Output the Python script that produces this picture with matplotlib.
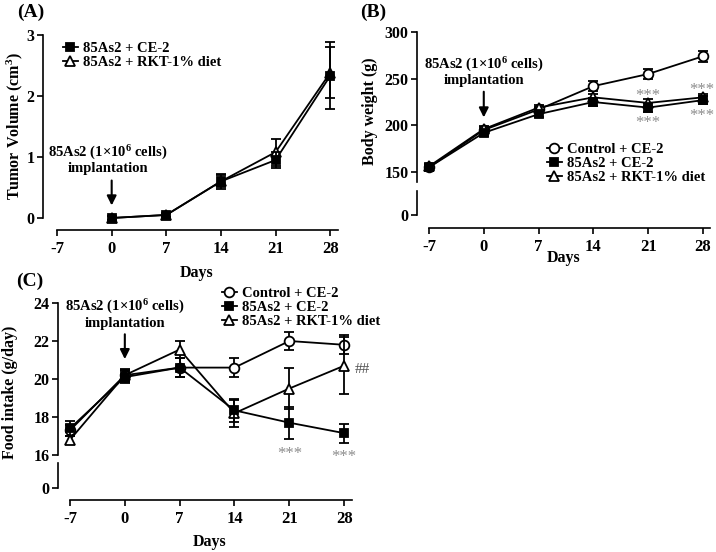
import matplotlib
matplotlib.use('Agg')
import matplotlib.pyplot as plt
from matplotlib.lines import Line2D

plt.rcParams['font.family'] = ['Liberation Serif', 'DejaVu Serif']
plt.rcParams['font.weight'] = 'bold'
plt.rcParams['axes.linewidth'] = 1.2
plt.rcParams['axes.unicode_minus'] = False
plt.rcParams['mathtext.fontset'] = 'custom'
plt.rcParams['mathtext.rm'] = 'Liberation Serif:bold'
plt.rcParams['mathtext.bf'] = 'Liberation Serif:bold'
plt.rcParams['mathtext.it'] = 'Liberation Serif:bold:italic'
plt.rcParams['mathtext.default'] = 'rm'

# ---------------- data ----------------
days_a = [0, 7, 14, 21, 28]
tumor_ce2 = [0.0, 0.05, 0.60, 0.95, 2.33]
tumor_ce2_err = [0.03, 0.03, 0.12, 0.13, 0.55]
tumor_rkt = [0.0, 0.05, 0.60, 1.08, 2.38]
tumor_rkt_err = [0.03, 0.03, 0.10, 0.22, 0.42]

days = [-7, 0, 7, 14, 21, 28]
bw_control = [155, 195, 217, 242, 255, 274]
bw_control_err = [3, 3, 3, 5, 5, 6]
bw_ce2 = [155, 192, 212, 225, 219, 227]
bw_ce2_err = [3, 3, 3, 4, 5, 4]
bw_rkt = [156, 196, 219, 230, 224, 230]
bw_rkt_err = [3, 3, 3, 4, 4, 4]

fi_control = [17.3, 20.2, 20.6, 20.6, 22.0, 21.8]
fi_control_err = [0.3, 0.3, 0.5, 0.5, 0.45, 0.5]
fi_ce2 = [17.4, 20.1, 20.6, 18.35, 17.7, 17.15]
fi_ce2_err = [0.4, 0.3, 0.5, 0.6, 0.85, 0.5]
fi_rkt = [16.8, 20.2, 21.55, 18.2, 19.5, 20.7]
fi_rkt_err = [0.2, 0.35, 0.45, 0.7, 1.1, 1.5]

lab_control = 'Control + CE-2'
lab_ce2 = '85As2 + CE-2'
lab_rkt = '85As2 + RKT-1% diet'
implant_txt = '85As2 (1\u00d710$^{6}$ cells)\nimplantation'

W, H = 716, 552
fig = plt.figure(figsize=(W / 100, H / 100), dpi=100)


def add_ax(x0, y0, x1, y1):
    return fig.add_axes([x0 / W, 1 - y1 / H, (x1 - x0) / W, (y1 - y0) / H])


def fx(px):
    return px / W


def fy(py):
    return 1 - py / H


STY = {
    'ctrl': dict(marker='o', ms=7, mfc='white'),
    'ce2': dict(marker='s', ms=6, mfc='black'),
    'rkt': dict(marker='^', ms=7.5, mfc='white'),
}


def series(ax, x, y, e, key, z=3):
    ax.errorbar(x, y, yerr=e, fmt='-', color='black', lw=1.3, mec='black', mew=1.3,
                elinewidth=1.3, capsize=3.5, capthick=1.3, ecolor='black',
                clip_on=False, zorder=z, **STY[key])


def tick_style(ax):
    ax.tick_params(axis='both', direction='out', length=4, width=1.2, pad=2)
    for lab in ax.get_xticklabels():
        lab.set_fontsize(12)
        lab.set_fontweight('bold')
    for lab in ax.get_yticklabels():
        lab.set_fontsize(11.5)
        lab.set_fontweight('bold')
    ax.tick_params(axis='x', pad=4)


def legend_handles(keys):
    return [Line2D([], [], color='black', lw=1.3, mec='black', mew=1.3, **STY[k]) for k in keys]


ARROW = dict(arrowstyle='-|>', lw=1.5, color='black', mutation_scale=14)
LEG = dict(loc='upper left', frameon=False, handlelength=1.0, handletextpad=0.4,
           labelspacing=0.05, borderpad=0, borderaxespad=0,
           prop={'weight': 'bold', 'size': 10.5})

# ---------------- Panel A ----------------
axA = add_ax(43, 35, 338, 230)
axA.set_xlim(-8.8, 29.0)
axA.set_ylim(-0.197, 3.0)
for s in ['top', 'right']:
    axA.spines[s].set_visible(False)
axA.spines['left'].set_bounds(0, 3)
axA.spines['bottom'].set_bounds(-7, 29.0)
axA.set_yticks([0, 1, 2, 3])
axA.set_xticks(days)
series(axA, days_a, tumor_rkt, tumor_rkt_err, 'rkt', z=3)
series(axA, days_a, tumor_ce2, tumor_ce2_err, 'ce2', z=4)
tick_style(axA)
axA.annotate('', xy=(0, 0.16), xytext=(0, 0.66), arrowprops=ARROW)
axA.text(-0.5, 0.70, implant_txt, ha='center', va='bottom', fontsize=10.5,
         fontweight='bold', linespacing=1.05)
axA.legend(legend_handles(['ce2', 'rkt']), [lab_ce2, lab_rkt],
           bbox_to_anchor=(fx(63), fy(42)), bbox_transform=fig.transFigure, **LEG)
fig.text(fx(15), fy(126), 'Tumor Volume (cm$^{3}$)', rotation=90, ha='center', va='center',
         fontsize=11.5, fontweight='bold')
fig.text(fx(197), fy(273), 'Days', ha='center', va='center', fontsize=11.5, fontweight='bold')
fig.text(fx(31), fy(12), '(A)', ha='center', va='center', fontsize=14, fontweight='bold')

# ---------------- Panel B ----------------
axB = add_ax(417, 32, 710, 182)
axBl = add_ax(417, 191, 710, 228)
for ax in (axB, axBl):
    ax.set_xlim(-8.53, 28.9)
    ax.spines['top'].set_visible(False)
    ax.spines['right'].set_visible(False)
axB.set_ylim(139.3, 300)
axB.spines['bottom'].set_visible(False)
axB.set_yticks([150, 200, 250, 300])
axB.set_xticks([])
axBl.set_ylim(-13, 24)
axBl.spines['left'].set_bounds(0, 24)
axBl.spines['bottom'].set_bounds(-7, 28.9)
axBl.set_yticks([0])
axBl.set_xticks(days)
axBl.patch.set_visible(False)
series(axB, days, bw_control, bw_control_err, 'ctrl', z=3)
series(axB, days, bw_rkt, bw_rkt_err, 'rkt', z=4)
series(axB, days, bw_ce2, bw_ce2_err, 'ce2', z=5)
tick_style(axB)
tick_style(axBl)
axB.annotate('', xy=(0, 205.5), xytext=(0, 239), arrowprops=ARROW)
axB.text(0, 241, implant_txt, ha='center', va='bottom', fontsize=10.5,
         fontweight='bold', linespacing=1.05)
ast_kw = dict(ha='center', va='center', fontsize=12, color='#8c8c8c', fontweight='normal')
axB.text(21, 234.6 - 3.5, '***', **ast_kw)
axB.text(21, 205.7 - 3.5, '***', **ast_kw)
axB.text(27.9, 241 - 3.5, '***', **ast_kw)
axB.text(27.9, 213.2 - 3.5, '***', **ast_kw)
axB.legend(legend_handles(['ctrl', 'ce2', 'rkt']), [lab_control, lab_ce2, lab_rkt],
           bbox_to_anchor=(fx(547), fy(143)), bbox_transform=fig.transFigure, **LEG)
fig.text(fx(370), fy(111), 'Body weight (g)', rotation=90, ha='center', va='center',
         fontsize=11.5, fontweight='bold')
fig.text(fx(564), fy(258), 'Days', ha='center', va='center', fontsize=11.5, fontweight='bold')
fig.text(fx(373), fy(12), '(B)', ha='center', va='center', fontsize=14, fontweight='bold')

# ---------------- Panel C ----------------
axC = add_ax(58, 303, 352, 455)
axCl = add_ax(58, 463, 352, 500)
for ax in (axC, axCl):
    ax.set_xlim(-8.53, 29.0)
    ax.spines['top'].set_visible(False)
    ax.spines['right'].set_visible(False)
axC.set_ylim(16, 24)
axC.spines['bottom'].set_visible(False)
axC.set_yticks([16, 18, 20, 22, 24])
axC.set_xticks([])
axCl.set_ylim(-12, 25)
axCl.spines['left'].set_bounds(0, 25)
axCl.spines['bottom'].set_bounds(-7, 29.0)
axCl.set_yticks([0])
axCl.set_xticks(days)
axCl.patch.set_visible(False)
series(axC, days, fi_control, fi_control_err, 'ctrl', z=3)
series(axC, days, fi_rkt, fi_rkt_err, 'rkt', z=4)
series(axC, days, fi_ce2, fi_ce2_err, 'ce2', z=5)
tick_style(axC)
tick_style(axCl)
axC.annotate('', xy=(0, 20.9), xytext=(0, 22.5), arrowprops=ARROW)
axC.text(0, 22.6, implant_txt, ha='center', va='bottom', fontsize=10.5,
         fontweight='bold', linespacing=1.05)
axC.text(21, 16.25 - 0.18, '***', **ast_kw)
axC.text(28, 16.1 - 0.18, '***', **ast_kw)
axC.text(29.3, 20.5, '##', ha='left', va='center', fontsize=11, color='#505050',
         fontweight='normal')
axC.legend(legend_handles(['ctrl', 'ce2', 'rkt']), [lab_control, lab_ce2, lab_rkt],
           bbox_to_anchor=(fx(222), fy(287)), bbox_transform=fig.transFigure, **LEG)
fig.text(fx(10), fy(392), 'Food intake (g/day)', rotation=90, ha='center', va='center',
         fontsize=11.5, fontweight='bold')
fig.text(fx(210), fy(542), 'Days', ha='center', va='center', fontsize=11.5, fontweight='bold')
fig.text(fx(30), fy(281), '(C)', ha='center', va='center', fontsize=14, fontweight='bold')

fig.savefig('out.png', dpi=100)
